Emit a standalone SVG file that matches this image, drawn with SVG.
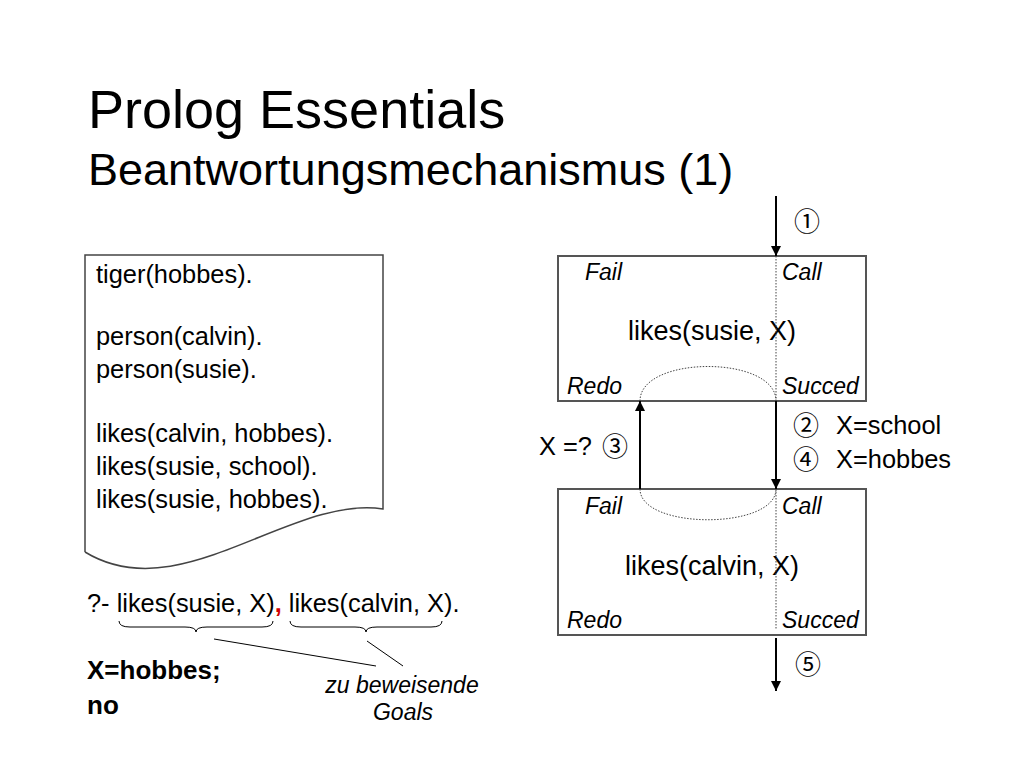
<svg xmlns="http://www.w3.org/2000/svg" width="1024" height="768" viewBox="0 0 1024 768">
<defs>
<marker id="ah" viewBox="0 0 10 10" refX="10" refY="5" markerWidth="10" markerHeight="10" markerUnits="userSpaceOnUse" orient="auto">
<path d="M0,0 L10,5 L0,10 z" fill="#000"/>
</marker>
<style>
text{font-family:"Liberation Sans",Arial,sans-serif;fill:#000}
.t1{font-size:54px}
.t2{font-size:45px}
.b{font-size:25.4px}
.bl{font-size:27px}
.it{font-size:23px;font-style:italic}
.cn{font-family:"Noto Sans CJK JP","DejaVu Sans",sans-serif;font-size:26px}
.bold{font-size:26px;font-weight:bold}
.box{fill:#fff;stroke:#555;stroke-width:2}
.doc{fill:#fff;stroke:#444;stroke-width:1.5}
.arr{stroke:#000;stroke-width:2;fill:none;marker-end:url(#ah)}
.dot{stroke:#444;stroke-width:1;stroke-dasharray:1.5,1.5;fill:none}
.thin{stroke:#000;stroke-width:1;fill:none}
</style>
</defs>
<rect width="1024" height="768" fill="#fff"/>
<g id="title">
<text class="t1" x="88" y="128">Prolog Essentials</text>
<text class="t2" x="88" y="185">Beantwortungsmechanismus (1)</text>
</g>
<g id="program">
<path class="doc" d="M85,552 L85,255 L383,255 L383,509 C290,495 180,610 85,552"/>
<text class="b" x="96" y="283">tiger(hobbes).</text>
<text class="b" x="96" y="345">person(calvin).</text>
<text class="b" x="96" y="378">person(susie).</text>
<text class="b" x="96" y="442">likes(calvin, hobbes).</text>
<text class="b" x="96" y="475">likes(susie, school).</text>
<text class="b" x="96" y="508">likes(susie, hobbes).</text>
</g>
<g id="query">
<text class="b" x="87" y="612">?- likes(susie, X)<tspan fill="#d00000" font-weight="bold">,</tspan> likes(calvin, X).</text>
<path class="thin" stroke="#555" d="M119,621 Q119,627 130,627 L185,627 Q196,627 196,632 Q196,627 207,627 L262,627 Q273,627 273,621"/>
<path class="thin" stroke="#555" d="M290,621 Q290,627 301,627 L355,627 Q366,627 366,632 Q366,627 377,627 L431,627 Q442,627 442,621"/>
<line class="thin" x1="214" y1="639" x2="376" y2="666"/>
<line class="thin" x1="367" y1="641" x2="403" y2="666"/>
<text class="it" x="402" y="693" text-anchor="middle" font-size="21">zu beweisende</text>
<text class="it" x="403" y="720" text-anchor="middle" font-size="21">Goals</text>
</g>
<g id="answer">
<text class="bold" x="87" y="679">X=hobbes;</text>
<text class="bold" x="87" y="714">no</text>
</g>
<g id="goal1">
<rect class="box" x="558" y="256" width="308" height="145"/>
<text class="it" x="585" y="280">Fail</text>
<text class="it" x="782" y="280">Call</text>
<text class="bl" x="712" y="340" text-anchor="middle">likes(susie, X)</text>
<text class="it" x="567" y="394">Redo</text>
<text class="it" x="782" y="394">Succed</text>
</g>
<g id="goal2">
<rect class="box" x="558" y="489" width="308" height="146"/>
<text class="it" x="585" y="514">Fail</text>
<text class="it" x="782" y="514">Call</text>
<text class="bl" x="712" y="575" text-anchor="middle">likes(calvin, X)</text>
<text class="it" x="567" y="628">Redo</text>
<text class="it" x="782" y="628">Succed</text>
</g>
<g id="connectors">
<line class="arr" x1="776" y1="196" x2="776" y2="256"/>
<line class="dot" x1="776" y1="256" x2="776" y2="401"/>
<line class="arr" x1="776" y1="401" x2="776" y2="489"/>
<line class="dot" x1="776" y1="489" x2="776" y2="630"/>
<line class="arr" x1="776" y1="638" x2="776" y2="691"/>
<line class="arr" x1="640" y1="489" x2="640" y2="401"/>
<path class="dot" d="M640,401 C640,355 776,355 776,401"/>
<path class="dot" d="M640,489 C640,530 776,530 776,489"/>
</g>
<g id="labels">
<text class="cn" x="807" y="231" text-anchor="middle">①</text>
<text class="cn" x="806" y="435" text-anchor="middle">②</text>
<text class="b" x="836" y="434">X=school</text>
<text class="cn" x="806" y="469" text-anchor="middle">④</text>
<text class="b" x="836" y="468">X=hobbes</text>
<text class="b" x="539" y="455">X =?</text>
<text class="cn" x="615" y="456" text-anchor="middle">③</text>
<text class="cn" x="808" y="674" text-anchor="middle">⑤</text>
</g>
</svg>
